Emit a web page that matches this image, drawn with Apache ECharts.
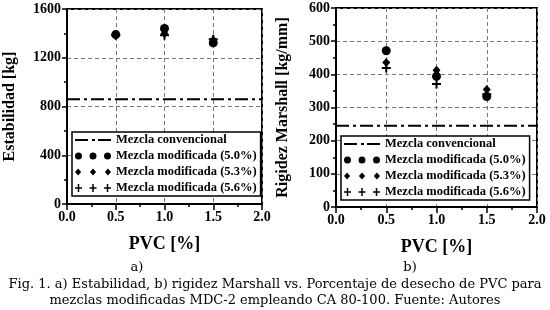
<!DOCTYPE html>
<html>
<head>
<meta charset="utf-8">
<script src="https://cdn.jsdelivr.net/npm/echarts@6/dist/echarts.min.js"></script>
<style>
  html, body { margin: 0; padding: 0; background: #fff; }
  #chart { width: 550px; height: 310px; }
</style>
</head>
<body>
<div id="chart"></div>
<script>
  // PVC content [%]
  const pvc = [0.5, 1.0, 1.5];

  // a) Estabilidad [kg]
  const estConvencional = 860;
  const est50 = [1390, 1440, 1322];
  const est53 = [1385, 1400, 1345];
  const est56 = [1385, 1385, 1352];

  // b) Rigidez Marshall [kg/mm]
  const rigConvencional = 245;
  const rig50 = [471, 394, 333];
  const rig53 = [436, 412, 354];
  const rig56 = [419, 371, 340];

  const names = [
    'Mezcla convencional',
    'Mezcla modificada (5.0%)',
    'Mezcla modificada (5.3%)',
    'Mezcla modificada (5.6%)'
  ];

  const serif = '"Liberation Serif", "Times New Roman", serif';
  const plusPath = 'path://M3.5,0h2v3.5h3.5v2h-3.5v3.5h-2v-3.5h-3.5v-2h3.5Z';

  // legend icons (three marks / dash-dot line)
  const iconDashDot = 'path://M0,3h13v2h-13Z M17,3h3v2h-3Z M23,3h13v2h-13Z';
  const iconCircles = 'path://M0,4a3.5,3.5 0 1,0 7,0a3.5,3.5 0 1,0 -7,0Z' +
    'M14.5,4a3.5,3.5 0 1,0 7,0a3.5,3.5 0 1,0 -7,0Z' +
    'M29,4a3.5,3.5 0 1,0 7,0a3.5,3.5 0 1,0 -7,0Z';
  const iconDiamonds = 'path://M3.5,0.5L6.5,4L3.5,7.5L0.5,4Z' +
    'M18,0.5L21,4L18,7.5L15,4Z' +
    'M32.5,0.5L35.5,4L32.5,7.5L29.5,4Z';
  const iconPlus = 'path://M2.75,0h1.5v3.25h2.75v1.5h-2.75v3.25h-1.5v-3.25h-2.75v-1.5h2.75Z' +
    'M17.25,0h1.5v3.25h2.75v1.5h-2.75v3.25h-1.5v-3.25h-2.75v-1.5h2.75Z' +
    'M31.75,0h1.5v3.25h2.75v1.5h-2.75v3.25h-1.5v-3.25h-2.75v-1.5h2.75Z';

  const pts = ys => pvc.map((x, i) => [x, ys[i]]);
  const flat = (v, lo, hi) => [[lo, v], [hi, v]];

  function xAxis(gridIndex) {
    return {
      type: 'value', gridIndex, min: 0, max: 2, interval: 0.5,
      name: 'PVC [%]', nameLocation: 'middle', nameGap: 31,
      nameTextStyle: { fontFamily: serif, fontWeight: 'bold', fontSize: 18, color: '#000' },
      axisLine: { onZero: false, lineStyle: { color: '#000', width: 2 } },
      axisTick: { length: 6, lineStyle: { color: '#000', width: 1.5 } },
      minorTick: { show: true, splitNumber: 2, length: 3, lineStyle: { color: '#000', width: 1.5 } },
      axisLabel: { fontFamily: serif, fontWeight: 'bold', fontSize: 14, color: '#000', margin: 6,
        formatter: v => v.toFixed(1) },
      splitLine: { show: true, lineStyle: { color: '#777', type: [4, 3], width: 1 } }
    };
  }

  function yAxis(gridIndex, max, interval, name, gap) {
    return {
      type: 'value', gridIndex, min: 0, max, interval,
      name, nameLocation: 'middle', nameGap: gap,
      nameTextStyle: { fontFamily: serif, fontWeight: 'bold', fontSize: 16, color: '#000' },
      axisLine: { show: true, lineStyle: { color: '#000', width: 2 } },
      axisTick: { show: true, length: 5, lineStyle: { color: '#000', width: 1.5 } },
      minorTick: { show: true, splitNumber: 2, length: 3, lineStyle: { color: '#000', width: 1.5 } },
      axisLabel: { fontFamily: serif, fontWeight: 'bold', fontSize: 14, color: '#000', margin: 6,
        formatter: v => String(v) },
      splitLine: { show: true, lineStyle: { color: '#777', type: [4, 3], width: 1 } }
    };
  }

  const mark = { color: '#000', opacity: 1 };

  function seriesFor(idx, conv, s50, s53, s56) {
    return [
      { name: names[0], type: 'line', xAxisIndex: idx, yAxisIndex: idx, data: flat(conv, 0, 2),
        symbol: 'none', z: 3, itemStyle: { color: '#000' },
        lineStyle: { color: '#000', width: 2, type: [13, 4, 3, 4] } },
      { name: names[1], type: 'scatter', xAxisIndex: idx, yAxisIndex: idx, data: pts(s50),
        symbol: 'circle', symbolSize: 9, itemStyle: mark, z: 4 },
      { name: names[2], type: 'scatter', xAxisIndex: idx, yAxisIndex: idx, data: pts(s53),
        symbol: 'diamond', symbolSize: [8, 9], itemStyle: mark, z: 5 },
      { name: names[3], type: 'scatter', xAxisIndex: idx, yAxisIndex: idx, data: pts(s56),
        symbol: plusPath, symbolSize: 9, itemStyle: mark, z: 6 }
    ];
  }

  function legend(left, top) {
    return {
      orient: 'vertical', left, top,
      backgroundColor: '#fff', borderColor: '#000', borderWidth: 1.5,
      padding: [1, 4, 1, 3], itemGap: 2, itemWidth: 36, itemHeight: 9,
      textStyle: { fontFamily: serif, fontWeight: 'bold', fontSize: 12.5, color: '#000', lineHeight: 14 },
      itemStyle: { color: '#000', opacity: 1 },
      selectedMode: false, z: 10,
      data: [
        { name: names[0], icon: iconDashDot },
        { name: names[1], icon: iconCircles },
        { name: names[2], icon: iconDiamonds },
        { name: names[3], icon: iconPlus }
      ]
    };
  }

  const captionFont = '13px "DejaVu Serif", serif';

  const chart = echarts.init(document.getElementById('chart'), null, { renderer: 'canvas' });
  chart.setOption({
    backgroundColor: '#fff',
    animation: false,
    grid: [
      { left: 67, top: 9, width: 195, height: 195, show: true, borderColor: '#000', borderWidth: 2 },
      { left: 336, top: 8, width: 201, height: 199, show: true, borderColor: '#000', borderWidth: 2 }
    ],
    xAxis: [xAxis(0), xAxis(1)],
    yAxis: [
      yAxis(0, 1600, 400, 'Estabilidad [kg]', 49),
      yAxis(1, 600, 100, 'Rigidez Marshall [kg/mm]', 45)
    ],
    legend: [legend(72, 132), legend(341, 136)],
    series: [
      ...seriesFor(0, estConvencional, est50, est53, est56),
      ...seriesFor(1, rigConvencional, rig50, rig53, rig56)
    ],
    graphic: [
      { type: 'text', x: 137, y: 268, style: { text: 'a)', align: 'center', verticalAlign: 'middle', font: captionFont, fill: '#000' } },
      { type: 'text', x: 410, y: 268, style: { text: 'b)', align: 'center', verticalAlign: 'middle', font: captionFont, fill: '#000' } },
      { type: 'text', x: 275, y: 285, style: { text: 'Fig. 1. a) Estabilidad, b) rigidez Marshall vs. Porcentaje de desecho de PVC para', align: 'center', verticalAlign: 'middle', font: captionFont, fill: '#000' } },
      { type: 'text', x: 275, y: 301, style: { text: 'mezclas modificadas MDC-2 empleando CA 80-100. Fuente: Autores', align: 'center', verticalAlign: 'middle', font: captionFont, fill: '#000' } }
    ]
  });
</script>
</body>
</html>
